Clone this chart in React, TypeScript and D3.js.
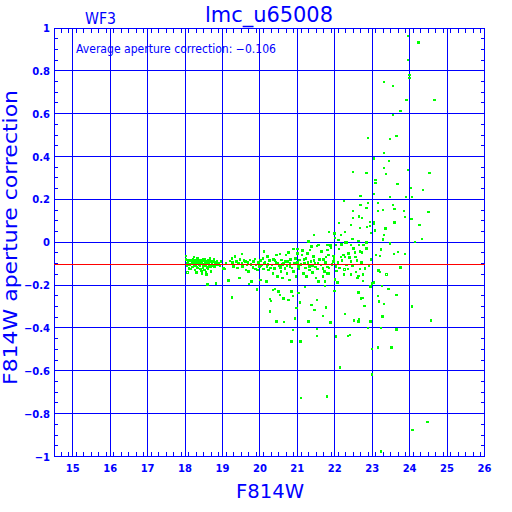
import React from "react";
import * as d3 from "d3";

const title = "lmc_u65008";
const camera = "WF3";
const xLabel = "F814W";
const yLabel = "F814W aperture correction";
const avgCorrection = -0.106;
const avgText = "Average aperture correction: −0.106";

const xTicks = [15, 16, 17, 18, 19, 20, 21, 22, 23, 24, 25, 26];
const yTicks = [-1, -0.8, -0.6, -0.4, -0.2, 0, 0.2, 0.4, 0.6, 0.8, 1];

// [F814W magnitude, aperture correction]
const brightStars = [
  [18.02, -0.064], [18.02, -0.08], [18.07, -0.098], [18.1, -0.122], [18.14, -0.086],
  [18.17, -0.101], [18.21, -0.08], [18.23, -0.094], [18.25, -0.111], [18.27, -0.083],
  [18.3, -0.098], [18.32, -0.117], [18.3, -0.142], [18.34, -0.075], [18.36, -0.091],
  [18.38, -0.106], [18.41, -0.126], [18.42, -0.083], [18.45, -0.098], [18.46, -0.145],
  [18.5, -0.08], [18.5, -0.111], [18.52, -0.129], [18.54, -0.091], [18.57, -0.15],
  [18.58, -0.098], [18.6, -0.117], [18.63, -0.083], [18.66, -0.106], [18.67, -0.075],
  [18.69, -0.137], [18.72, -0.098], [18.76, -0.091], [18.79, -0.114], [18.82, -0.095],
  [18.85, -0.088], [18.6, -0.198], [18.83, -0.193],
  [18.05, -0.11], [18.08, -0.085], [18.12, -0.105], [18.15, -0.125], [18.19, -0.092],
  [18.2, -0.115], [18.24, -0.07], [18.26, -0.13], [18.28, -0.105], [18.31, -0.088],
  [18.33, -0.1], [18.35, -0.12], [18.37, -0.082], [18.39, -0.095], [18.4, -0.108],
  [18.43, -0.102], [18.44, -0.135], [18.47, -0.088], [18.48, -0.118], [18.51, -0.102],
  [18.53, -0.078], [18.55, -0.112], [18.56, -0.14], [18.59, -0.087], [18.61, -0.125],
  [18.64, -0.095], [18.68, -0.115], [18.7, -0.09], [18.74, -0.108], [18.78, -0.08],
  [18.87, -0.105], [18.9, -0.098], [18.93, -0.112], [18.96, -0.09],
];

const midStars = [
  [19.03, -0.122], [19.07, -0.126], [19.16, -0.179], [19.25, -0.075], [19.27, -0.094],
  [19.3, -0.114], [19.34, -0.067], [19.37, -0.091], [19.43, -0.098], [19.46, -0.168],
  [19.47, -0.08], [19.52, -0.055], [19.52, -0.098], [19.54, -0.114], [19.61, -0.091],
  [19.63, -0.129], [19.65, -0.106], [19.7, -0.137], [19.71, -0.196], [19.74, -0.083],
  [19.76, -0.103], [19.78, -0.184], [19.81, -0.117], [19.83, -0.091], [19.87, -0.078],
  [19.9, -0.106], [19.92, -0.22], [19.94, -0.129], [19.96, -0.095], [19.99, -0.114],
  [19.25, -0.259], [20.01, -0.176], [20.02, -0.086], [20.05, -0.106], [20.08, -0.075],
  [20.1, -0.126], [20.11, -0.044], [20.14, -0.095], [20.17, -0.184], [20.19, -0.114],
  [20.2, -0.067], [20.23, -0.129], [20.26, -0.086], [20.27, -0.265], [20.27, -0.324],
  [20.3, -0.274], [20.32, -0.106], [20.35, -0.223], [20.35, -0.145], [20.36, -0.08],
  [20.39, -0.122], [20.41, -0.218], [20.43, -0.095], [20.45, -0.06], [20.45, -0.37],
  [20.47, -0.161], [20.5, -0.231], [20.52, -0.111], [20.54, -0.056], [20.54, -0.246],
  [20.57, -0.137], [20.58, -0.083], [20.61, -0.168], [20.63, -0.262], [20.63, -0.098],
  [20.65, -0.373], [20.67, -0.122], [20.7, -0.06], [20.72, -0.145], [20.74, -0.091],
  [20.76, -0.269], [20.76, -0.049], [20.79, -0.176], [20.81, -0.114], [20.82, -0.08],
  [20.85, -0.231], [20.85, -0.464], [20.88, -0.251], [20.88, -0.409], [20.9, -0.032],
  [20.9, -0.137], [20.92, -0.098], [20.94, -0.355], [20.97, -0.161], [20.98, -0.308],
  [21.01, -0.032], [21.01, -0.052], [21.03, -0.238], [21.03, -0.114], [21.06, -0.083],
  [21.07, -0.282], [21.09, -0.464], [21.12, -0.06], [21.14, -0.039], [21.16, -0.145],
  [21.19, -0.098], [21.21, -0.21], [21.23, -0.075], [21.25, -0.161], [21.27, -0.052],
  [21.3, -0.37], [21.3, 0.003], [21.32, -0.114], [21.34, -0.036], [21.36, -0.091],
  [21.38, -0.021], [21.38, -0.293], [21.41, -0.142], [21.43, -0.067], [21.45, 0.034],
  [21.46, -0.316], [21.47, -0.098], [21.5, -0.168], [21.52, -0.018], [21.52, -0.269],
  [21.52, -0.406], [21.52, -0.437], [21.54, -0.126], [21.56, -0.013], [21.56, -0.184],
  [21.59, -0.08], [21.1, -0.726],
  [19.1, -0.1], [19.2, -0.088], [19.4, -0.12], [19.57, -0.085], [19.68, -0.095],
  [19.88, -0.125], [20.03, -0.112], [20.12, -0.1], [20.22, -0.104], [20.29, -0.12],
  [20.4, -0.085], [20.48, -0.1], [20.55, -0.118], [20.6, -0.105], [20.69, -0.09],
  [20.73, -0.112], [20.8, -0.1], [20.86, -0.12], [20.95, -0.075], [21.0, -0.095],
  [21.05, -0.125], [21.1, -0.105], [21.18, -0.08], [21.22, -0.12], [21.28, -0.095],
  [21.33, -0.13], [21.4, -0.11], [21.44, -0.085], [21.49, -0.115], [21.55, -0.1],
];

const faintStars = [
  [23.95, 0.963], [24.24, 0.933], [23.95, 0.851], [24.0, 0.78], [24.0, 0.767],
  [23.31, 0.748], [23.55, 0.73], [23.92, 0.664], [24.67, 0.663], [23.76, 0.613],
  [23.55, 0.594], [22.89, 0.487], [23.47, 0.483], [23.65, 0.495], [23.31, 0.417],
  [23.05, 0.391], [23.45, 0.38], [23.31, 0.347], [23.95, 0.338], [22.49, 0.327],
  [22.85, 0.323], [23.37, 0.319], [24.53, 0.323], [23.09, 0.29], [23.09, 0.277],
  [23.68, 0.273], [24.03, 0.254], [24.36, 0.243], [22.69, 0.215], [23.05, 0.226],
  [23.48, 0.212], [23.9, 0.212], [24.06, 0.212], [22.25, 0.193], [22.89, 0.184],
  [23.15, 0.184], [22.69, 0.173], [23.56, 0.175], [22.85, 0.161], [23.59, 0.156],
  [22.49, 0.145], [23.15, 0.147], [23.29, 0.15], [23.85, 0.145], [24.51, 0.141],
  [22.65, 0.121], [22.49, 0.114], [22.73, 0.113], [23.87, 0.119], [24.05, 0.108],
  [22.11, 0.091], [22.94, 0.094], [23.05, 0.093], [23.6, 0.093], [22.43, 0.08],
  [22.94, 0.077], [23.05, 0.085], [22.67, 0.066], [22.86, 0.071], [23.36, 0.065],
  [24.27, 0.08], [23.07, 0.055], [22.97, 0.044], [22.27, 0.048], [21.84, 0.048],
  [21.99, 0.041], [23.32, 0.035], [22.17, 0.034], [22.01, 0.021], [22.48, 0.015],
  [23.29, 0.014], [24.33, 0.015],
  [22.1, 0.01], [24.14, 0.001], [21.79, -0.013], [21.86, -0.013], [21.89, -0.016],
  [22.03, -0.013], [22.27, -0.002], [22.33, -0.002], [22.43, -0.013], [22.63, 0.006],
  [22.65, -0.013], [22.77, -0.013], [22.85, -0.002], [23.23, -0.033], [23.47, -0.005],
  [21.65, -0.044], [21.8, -0.036], [21.77, -0.068], [21.96, -0.064], [22.11, -0.032],
  [22.16, -0.068], [22.23, -0.06], [22.37, -0.052], [22.39, -0.072], [22.54, -0.049],
  [22.55, -0.068], [22.67, -0.044], [22.73, -0.049], [22.85, -0.029], [22.97, -0.08],
  [23.1, -0.06], [23.21, -0.064], [23.24, -0.036], [23.58, -0.055], [23.69, -0.046],
  [23.87, -0.055], [21.63, -0.106], [21.68, -0.122], [21.72, -0.137], [21.8, -0.115],
  [21.85, -0.12], [21.81, -0.145], [21.96, -0.091], [22.03, -0.114], [22.05, -0.134],
  [22.01, -0.173], [22.07, -0.189], [21.99, -0.228], [21.74, -0.184], [21.74, -0.204],
  [21.68, -0.161], [22.25, -0.15], [22.32, -0.106], [22.43, -0.091], [22.43, -0.15],
  [22.57, -0.138], [22.63, -0.158], [22.67, -0.126], [22.72, -0.094], [22.76, -0.15],
  [22.61, -0.168], [22.75, -0.18], [22.81, -0.122], [22.92, -0.11], [22.99, -0.192],
  [23.05, -0.189], [22.96, -0.207], [23.17, -0.133], [23.21, -0.14], [23.26, -0.204],
  [23.44, -0.218], [23.75, -0.119], [22.64, -0.235], [22.7, -0.262], [22.74, -0.26],
  [23.15, -0.251], [23.18, -0.277], [23.31, -0.288], [23.65, -0.246], [22.8, -0.297],
  [21.76, -0.305], [22.27, -0.335], [23.28, -0.347], [21.68, -0.344], [21.89, -0.375],
  [22.51, -0.366], [22.63, -0.371], [22.65, -0.358], [22.96, -0.371], [24.06, -0.3],
  [24.57, -0.366], [22.89, -0.4], [23.23, -0.4], [23.65, -0.408], [22.03, -0.44],
  [22.36, -0.437], [22.41, -0.433], [22.99, -0.498], [23.15, -0.492], [23.52, -0.492],
  [22.14, -0.585], [22.99, -0.618], [21.79, -0.72], [24.48, -0.838], [24.08, -0.877],
  [23.23, -0.977],
  [21.7, -0.08], [21.75, -0.095], [21.83, -0.06], [21.92, -0.105], [21.98, -0.075],
  [22.08, -0.095], [22.13, -0.12], [22.2, -0.085], [22.28, -0.07], [22.35, -0.125],
  [22.47, -0.11], [22.5, -0.03], [22.6, -0.085], [21.9, -0.025], [22.18, -0.01],
];

// stars drawn with open squares
const openStars = [
  [18.06, -0.139], [21.84, -0.148], [22.27, -0.125], [23.37, -0.15],
];

const blue = "#0000ff";
const green = "#00ff00";
const red = "#ff0000";
const font = "'DejaVu Sans', sans-serif";

export default function App() {
  const x = d3.scaleLinear().domain([14.5, 26]).range([54, 484.5]);
  const y = d3.scaleLinear().domain([-1, 1]).range([456.5, 28]);
  const [x0, x1] = x.range();
  const [y0, y1] = [y(1), y(-1)];

  const xMinor = d3.range(145, 261, 2).map((v) => v / 10).filter((v) => Math.abs(v - Math.round(v)) > 1e-6);
  const yMinor = d3.range(-100, 101, 5).map((v) => v / 100).filter((v) => Math.abs(v * 5 - Math.round(v * 5)) > 1e-6);

  const fmtY = (v: number) => (v < 0 ? "−" : "") + d3.format("~g")(Math.abs(v));

  const allStars = [...brightStars, ...midStars, ...faintStars];

  return (
    <div style={{ position: "absolute", left: 0, top: 0 }}>
      <svg width={512} height={512} style={{ display: "block", background: "#fff" }}>
        <g shapeRendering="crispEdges" stroke={blue} strokeWidth={1}>
          {/* grid */}
          {xTicks.filter((t) => t < 26).map((t) => (
            <line key={"gx" + t} x1={x(t)} x2={x(t)} y1={y0} y2={y1} />
          ))}
          {yTicks.filter((t) => t > -1 && t < 1).map((t) => (
            <line key={"gy" + t} x1={x0} x2={x1} y1={y(t)} y2={y(t)} />
          ))}
          {/* minor ticks */}
          {xMinor.map((t) => (
            <g key={"mx" + t}>
              <line x1={x(t)} x2={x(t)} y1={y1} y2={y1 - 5} />
              <line x1={x(t)} x2={x(t)} y1={y0} y2={y0 + 5} />
            </g>
          ))}
          {yMinor.map((t) => (
            <g key={"my" + t}>
              <line x1={x0} x2={x0 + 4} y1={y(t)} y2={y(t)} />
              <line x1={x1} x2={x1 - 4} y1={y(t)} y2={y(t)} />
            </g>
          ))}
          <rect x={x0} y={y0} width={x1 - x0} height={y1 - y0} fill="none" />
        </g>

        {/* stars */}
        <g fill={green} shapeRendering="crispEdges">
          {allStars.map((d, i) => (
            <rect key={i} x={x(d[0]) - 1.25} y={y(d[1]) - 1.25} width={2.5} height={2.5} />
          ))}
          {openStars.map((d, i) => (
            <rect key={"o" + i} x={x(d[0]) - 1} y={y(d[1]) - 1} width={2} height={2}
              fill="none" stroke={green} strokeWidth={1} />
          ))}
        </g>

        {/* average correction */}
        <line x1={x0} x2={x1} y1={y(avgCorrection)} y2={y(avgCorrection)}
          stroke={red} strokeWidth={1} shapeRendering="crispEdges" />

        {/* tick labels */}
        <g fill={blue} fontFamily={font} fontWeight="bold" fontSize={10}>
          {xTicks.map((t) => (
            <text key={"lx" + t} x={x(t)} y={472} textAnchor="middle">{t}</text>
          ))}
          {yTicks.map((t) => (
            <text key={"ly" + t} x={50} y={y(t) + 4} textAnchor="end">{fmtY(t)}</text>
          ))}
        </g>

        <text x={269} y={21.5} textAnchor="middle" fill={blue} fontFamily={font} fontSize={21}
          textLength={128} lengthAdjust="spacingAndGlyphs">{title}</text>
        <text x={85} y={24} fill={blue} fontFamily={font} fontSize={16}
          textLength={31} lengthAdjust="spacingAndGlyphs">{camera}</text>
        <text x={76} y={52.5} fill={blue} fontFamily={font} fontSize={11.5}
          textLength={200} lengthAdjust="spacingAndGlyphs">{avgText}</text>
        <text x={270} y={497.5} textAnchor="middle" fill={blue} fontFamily={font} fontSize={20}
          textLength={68} lengthAdjust="spacingAndGlyphs">{xLabel}</text>
        <text transform="translate(17,237.5) rotate(-90)" textAnchor="middle" fill={blue}
          fontFamily={font} fontSize={19} textLength={295} lengthAdjust="spacingAndGlyphs">{yLabel}</text>
      </svg>
    </div>
  );
}
